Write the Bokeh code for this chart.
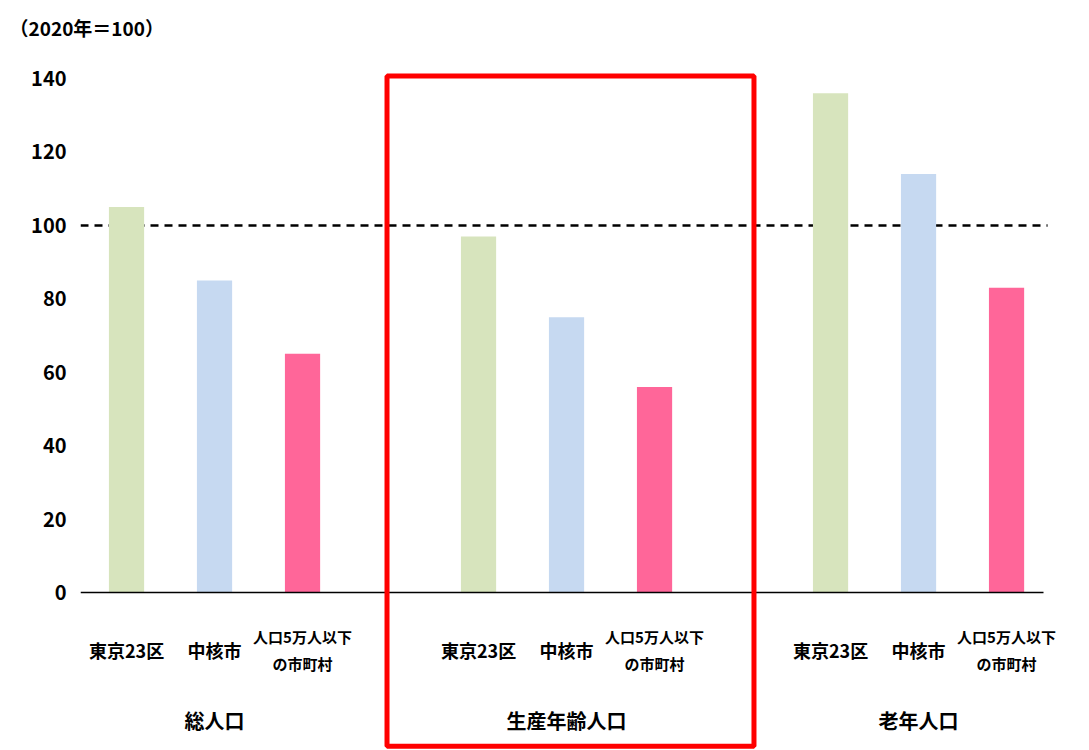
from bokeh.plotting import figure
from bokeh.models import ColumnDataSource
from bokeh.core.properties import value
from bokeh.embed import file_html
from bokeh.resources import INLINE

# ---- data ----
groups = ["総人口", "生産年齢人口", "老年人口"]
areas = ["東京23区", "中核市", "人口5万人以下\nの市町村"]
values_total = [105, 85, 65]
values_working = [97, 75, 56]
values_elderly = [136, 114, 83]
area_colors = ["#D7E4BD", "#C6D9F1", "#FF6699"]
y_ticks = [0, 20, 40, 60, 80, 100, 120, 140]
baseline = 100
unit_label = "（2020年＝100）"

FONT = "Noto Sans CJK JP"

series = [values_total, values_working, values_elderly]
xs, ys, cols, labels = [], [], [], []
for g, vals in enumerate(series):
    for i, v in enumerate(vals):
        xs.append(4 * g + i)
        ys.append(v)
        cols.append(area_colors[i])
        labels.append(areas[i])

src = ColumnDataSource(dict(x=xs, top=ys, color=cols, label=labels))

x_start, x_end = -0.523, 10.829
line_end = 10.466
p = figure(width=1089, height=750, output_backend="svg", toolbar_location=None,
           x_range=(x_start, x_end), y_range=(-43.04, 149.0),
           x_axis_location=None, min_border_left=80, min_border_right=10,
           min_border_top=45, min_border_bottom=0)
p.outline_line_color = None
p.grid.visible = False
p.background_fill_color = "white"
p.border_fill_color = "white"

# title (unit)
p.title.text = unit_label
p.title.align = "left"
p.title.offset = -71
p.title.text_font = FONT
p.title.text_font_size = "19px"
p.title.text_font_style = "bold"
p.title.text_color = "black"

# y axis
p.yaxis.ticker = y_ticks
p.yaxis.axis_line_color = None
p.yaxis.major_tick_line_color = None
p.yaxis.minor_tick_line_color = None
p.yaxis.major_label_standoff = 8
p.yaxis.major_label_text_font = FONT
p.yaxis.major_label_text_font_size = "20px"
p.yaxis.major_label_text_font_style = "bold"
p.yaxis.major_label_text_color = "black"

# dashed reference line at 100 (behind bars)
p.segment(x0=[x_start], y0=[baseline], x1=[line_end], y1=[baseline],
          line_color="black", line_width=2.5, line_dash="8 6")

# bars
p.vbar(x="x", top="top", bottom=0, width=0.4, color="color", line_color=None, source=src)

# baseline axis line at 0
p.segment(x0=[x_start], y0=[0], x1=[10.42], y1=[0], line_color="black", line_width=1.5)

# category labels
single = dict(x=[x for x, l in zip(xs, labels) if "\n" not in l],
              text=[l for l in labels if "\n" not in l])
double = dict(x=[x for x, l in zip(xs, labels) if "\n" in l],
              text=[l for l in labels if "\n" in l])
p.text(x=single["x"], y=[-15.7] * len(single["x"]), text=single["text"],
       text_font=value(FONT), text_font_size="18px", text_font_style="bold",
       text_align="center", text_baseline="middle", text_color="black")
p.text(x=double["x"], y=[-15.7] * len(double["x"]), text=double["text"],
       text_font=value(FONT), text_font_size="15px", text_font_style="bold",
       text_align="center", text_baseline="middle", text_color="black",
       text_line_height=1.29)

# group labels
p.text(x=[4 * g + 1 for g in range(len(groups))], y=[-34.9] * len(groups), text=groups,
       text_font=value(FONT), text_font_size="20px", text_font_style="bold",
       text_align="center", text_baseline="middle", text_color="black")

# red highlight frame around 生産年齢人口
p.quad(left=[2.96], right=[7.13], top=[140.7], bottom=[-41.9],
       fill_color=None, line_color="#FF0000", line_width=5)

open("out.html", "w").write(file_html(p, INLINE))
